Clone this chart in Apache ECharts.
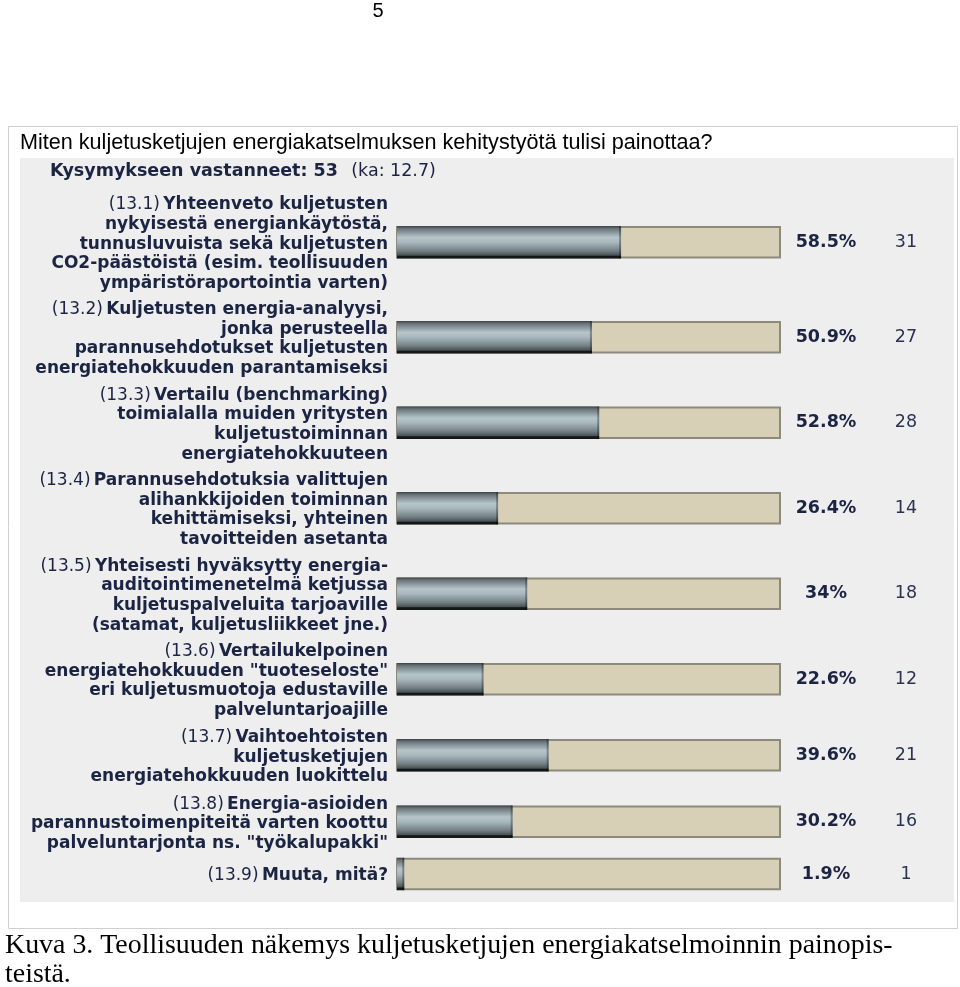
<!DOCTYPE html>
<html>
<head>
<meta charset="utf-8">
<script src="https://cdn.jsdelivr.net/npm/echarts@6/dist/echarts.min.js"></script>
<style>
  html, body { margin: 0; padding: 0; background: #fff; }
  #chart { width: 960px; height: 987px; }
</style>
</head>
<body>
<div id="chart"></div>
<script>
// kysymysten tunnukset ja tekstirivit
var codes = ['(13.1)', '(13.2)', '(13.3)', '(13.4)', '(13.5)', '(13.6)', '(13.7)', '(13.8)', '(13.9)'];
var labelLines = [
  ['Yhteenveto kuljetusten', 'nykyisestä energiankäytöstä,', 'tunnusluvuista sekä kuljetusten', 'CO2-päästöistä (esim. teollisuuden', 'ympäristöraportointia varten)'],
  ['Kuljetusten energia-analyysi,', 'jonka perusteella', 'parannusehdotukset kuljetusten', 'energiatehokkuuden parantamiseksi'],
  ['Vertailu (benchmarking)', 'toimialalla muiden yritysten', 'kuljetustoiminnan', 'energiatehokkuuteen'],
  ['Parannusehdotuksia valittujen', 'alihankkijoiden toiminnan', 'kehittämiseksi, yhteinen', 'tavoitteiden asetanta'],
  ['Yhteisesti hyväksytty energia-', 'auditointimenetelmä ketjussa', 'kuljetuspalveluita tarjoaville', '(satamat, kuljetusliikkeet jne.)'],
  ['Vertailukelpoinen', 'energiatehokkuuden "tuoteseloste"', 'eri kuljetusmuotoja edustaville', 'palveluntarjoajille'],
  ['Vaihtoehtoisten', 'kuljetusketjujen', 'energiatehokkuuden luokittelu'],
  ['Energia-asioiden', 'parannustoimenpiteitä varten koottu', 'palveluntarjonta ns. "työkalupakki"'],
  ['Muuta, mitä?']
];
var percents = [58.5, 50.9, 52.8, 26.4, 34, 22.6, 39.6, 30.2, 1.9];
var percentLabels = ['58.5%', '50.9%', '52.8%', '26.4%', '34%', '22.6%', '39.6%', '30.2%', '1.9%'];
var counts = [31, 27, 28, 14, 18, 12, 21, 16, 1];

// rivin korkeus tekstirivien mukaan (yksikkö = tekstirivi)
var rowPos = [];
var total = 0;
labelLines.forEach(function (lines) {
  var h = Math.max(lines.length, 1.5) + 0.5;
  rowPos.push(total + h / 2);
  total += h;
});

var navy = '#1b2442';
var font = '"DejaVu Sans"';

var data = percents.map(function (p, i) { return [p, rowPos[i], i]; });

function labelText(i) {
  return labelLines[i].map(function (l, k) {
    return k === 0 ? '{n|' + codes[i] + '} {b|' + l + '}' : '{b|' + l + '}';
  }).join('\n');
}

var chart = echarts.init(document.getElementById('chart'));

var option = {
  animation: false,
  backgroundColor: '#fff',
  graphic: [
    { type: 'rect', shape: { x: 8.5, y: 126.5, width: 949, height: 802 },
      style: { fill: '#fff', stroke: '#cfcfcf', lineWidth: 1 }, z: -10 },
    { type: 'rect', shape: { x: 20, y: 158, width: 934, height: 744 },
      style: { fill: '#eeeeee' }, z: -9 },
    { type: 'text', x: 378, y: 11, style: { text: '5', font: '20px "Liberation Sans"',
      fill: '#000', align: 'center', verticalAlign: 'middle' } },
    { type: 'text', x: 20, y: 143, style: { text: 'Miten kuljetusketjujen energiakatselmuksen kehitystyötä tulisi painottaa?',
      font: '21.6px "Liberation Sans"', fill: '#000', verticalAlign: 'middle' } },
    { type: 'text', x: 50, y: 171, style: {
      text: '{b|Kysymykseen vastanneet: 53}    {n|(ka: 12.7)}', verticalAlign: 'middle',
      rich: {
        b: { fontFamily: font, fontWeight: 'bold', fontSize: 17.5, fill: navy },
        n: { fontFamily: font, fontWeight: 'normal', fontSize: 17.5, fill: navy }
      } } },
    { type: 'text', x: 5, y: 946, style: { text: 'Kuva 3. Teollisuuden näkemys kuljetusketjujen energiakatselmoinnin painopis-',
      font: '27.9px "Liberation Serif"', fill: '#000', verticalAlign: 'middle' } },
    { type: 'text', x: 5, y: 975, style: { text: 'teistä.',
      font: '27.9px "Liberation Serif"', fill: '#000', verticalAlign: 'middle' } }
  ],
  grid: { left: 397, top: 190, width: 383, height: 703 },
  xAxis: { type: 'value', min: 0, max: 100, show: false },
  yAxis: { type: 'value', min: 0, max: total, inverse: true, show: false },
  series: [{
    type: 'custom',
    data: data,
    clip: false,
    renderItem: function (params, api) {
      var p = api.value(0), yc = api.value(1), i = api.value(2);
      var start = api.coord([0, yc]);
      var end = api.coord([100, yc]);
      var fillEnd = api.coord([p, yc]);
      var h = api.size([0, 1.6])[1];
      var top = start[1] - h / 2;
      return {
        type: 'group',
        children: [
          { type: 'rect', shape: { x: start[0], y: top, width: end[0] - start[0], height: h },
            style: { fill: '#d7d0b7', stroke: '#8c8a7c', lineWidth: 2 } },
          { type: 'rect', shape: { x: start[0], y: top - 1, width: fillEnd[0] - start[0], height: h + 2 },
            style: { fill: new echarts.graphic.LinearGradient(0, 0, 0, 1, [
              { offset: 0, color: '#3d4345' },
              { offset: 0.08, color: '#68747a' },
              { offset: 0.35, color: '#b5c5ca' },
              { offset: 0.5, color: '#a8b8bd' },
              { offset: 0.75, color: '#76848a' },
              { offset: 0.9, color: '#4a5356' },
              { offset: 0.93, color: '#141717' },
              { offset: 1, color: '#141717' }
            ]) } },
          { type: 'rect', shape: { x: fillEnd[0] - 2, y: top - 1, width: 2, height: h + 2 },
            style: { fill: 'rgba(0,0,0,0.3)' } },
          { type: 'text', x: start[0] - 9, y: start[1] + 2, style: {
            text: labelText(i), align: 'right', verticalAlign: 'middle', lineHeight: 19.6,
            rich: {
              n: { fontFamily: font, fontWeight: 'normal', fontSize: 17, fill: navy, lineHeight: 19.6 },
              b: { fontFamily: font, fontWeight: 'bold', fontSize: 17, fill: navy, lineHeight: 19.6 }
            } } },
          { type: 'text', x: end[0] + 46, y: start[1], style: {
            text: percentLabels[i], align: 'center', verticalAlign: 'middle',
            fontFamily: font, fontWeight: 'bold', fontSize: 17.5, fill: navy } },
          { type: 'text', x: end[0] + 126, y: start[1], style: {
            text: String(counts[i]), align: 'center', verticalAlign: 'middle',
            fontFamily: font, fontWeight: 'normal', fontSize: 17.5, fill: '#2a3450' } }
        ]
      };
    }
  }]
};

chart.setOption(option);
</script>
</body>
</html>
